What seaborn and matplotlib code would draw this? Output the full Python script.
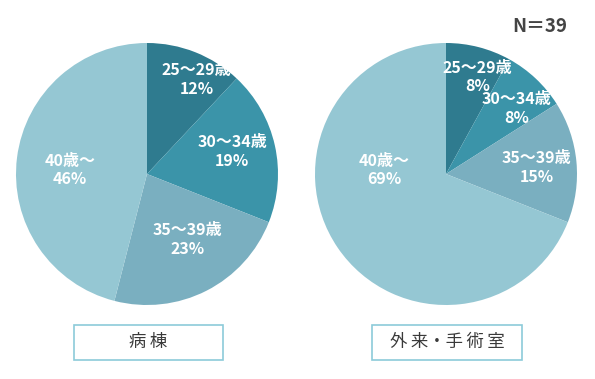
import matplotlib
matplotlib.use("Agg")
import matplotlib.pyplot as plt
import seaborn as sns
from matplotlib.patches import Rectangle

# ----------------------------------------------------------
# DATA
# ----------------------------------------------------------

age_groups = ["25～29歳", "30～34歳", "35～39歳", "40歳～"]
ward_share = [12, 19, 23, 46]          # 病棟
outpatient_share = [8, 8, 15, 69]      # 外来・手術室
panel_titles = ["病棟", "外来・手術室"]
sample_note = "N＝39"

# ----------------------------------------------------------
# STYLE
# ----------------------------------------------------------

sns.set_theme(style="white")
plt.rcParams["font.family"] = ["Noto Sans CJK JP", "DejaVu Sans"]

palette = sns.color_palette(["#2f7b8f", "#3b94a9", "#7aafc0", "#95c7d3"])
W, H = 595, 379

fig = plt.figure(figsize=(W / 100, H / 100), dpi=100)
fig.patch.set_facecolor("white")

# label block positions inside each pie (unit radius)
label_pos = [
    [(0.38, 0.72), (0.65, 0.17), (0.31, -0.50), (-0.59, 0.03)],
    [(0.24, 0.74), (0.54, 0.50), (0.69, 0.05), (-0.47, 0.03)],
]


def draw_pie(cx, cy, r, values, positions):
    ax = fig.add_axes([(cx - r) / W, (H - cy - r) / H, 2 * r / W, 2 * r / H])
    ax.pie(values, colors=palette, startangle=90, counterclock=False,
           radius=1, wedgeprops={"linewidth": 0})
    ax.set_xlim(-1, 1)
    ax.set_ylim(-1, 1)
    ax.axis("off")
    for name, val, (x, y) in zip(age_groups, values, positions):
        ax.text(x, y, f"{name}\n{val}%", ha="center", va="center",
                color="white", fontsize=11.5, fontweight="bold",
                linespacing=1.2)
    return ax


def title_box(x0, x1, y0, y1, text):
    fig.patches.append(Rectangle((x0 / W, 1 - y1 / H), (x1 - x0) / W,
                                 (y1 - y0) / H, transform=fig.transFigure,
                                 facecolor="white", edgecolor="#8ccbd9",
                                 linewidth=1.2))
    # letter-spaced, but keep the middle dot tight
    spaced = ""
    for i, ch in enumerate(text):
        spaced += ch
        if i < len(text) - 1 and ch != "・" and text[i + 1] != "・":
            spaced += "\u2009"
    fig.text((x0 + x1) / 2 / W, 1 - (y0 + y1) / 2 / H, spaced,
             ha="center", va="center", fontsize=12.5, color="#3a3a3a")


draw_pie(147, 174, 131, ward_share, label_pos[0])
draw_pie(446, 174, 131, outpatient_share, label_pos[1])

title_box(74, 223, 325, 360, panel_titles[0])
title_box(372, 522, 325, 360, panel_titles[1])

fig.text(540 / W, 1 - 27 / H, sample_note, ha="center", va="center",
         fontsize=13.5, fontweight="bold", color="#444444")

fig.savefig("out.png", dpi=100, facecolor="white")
